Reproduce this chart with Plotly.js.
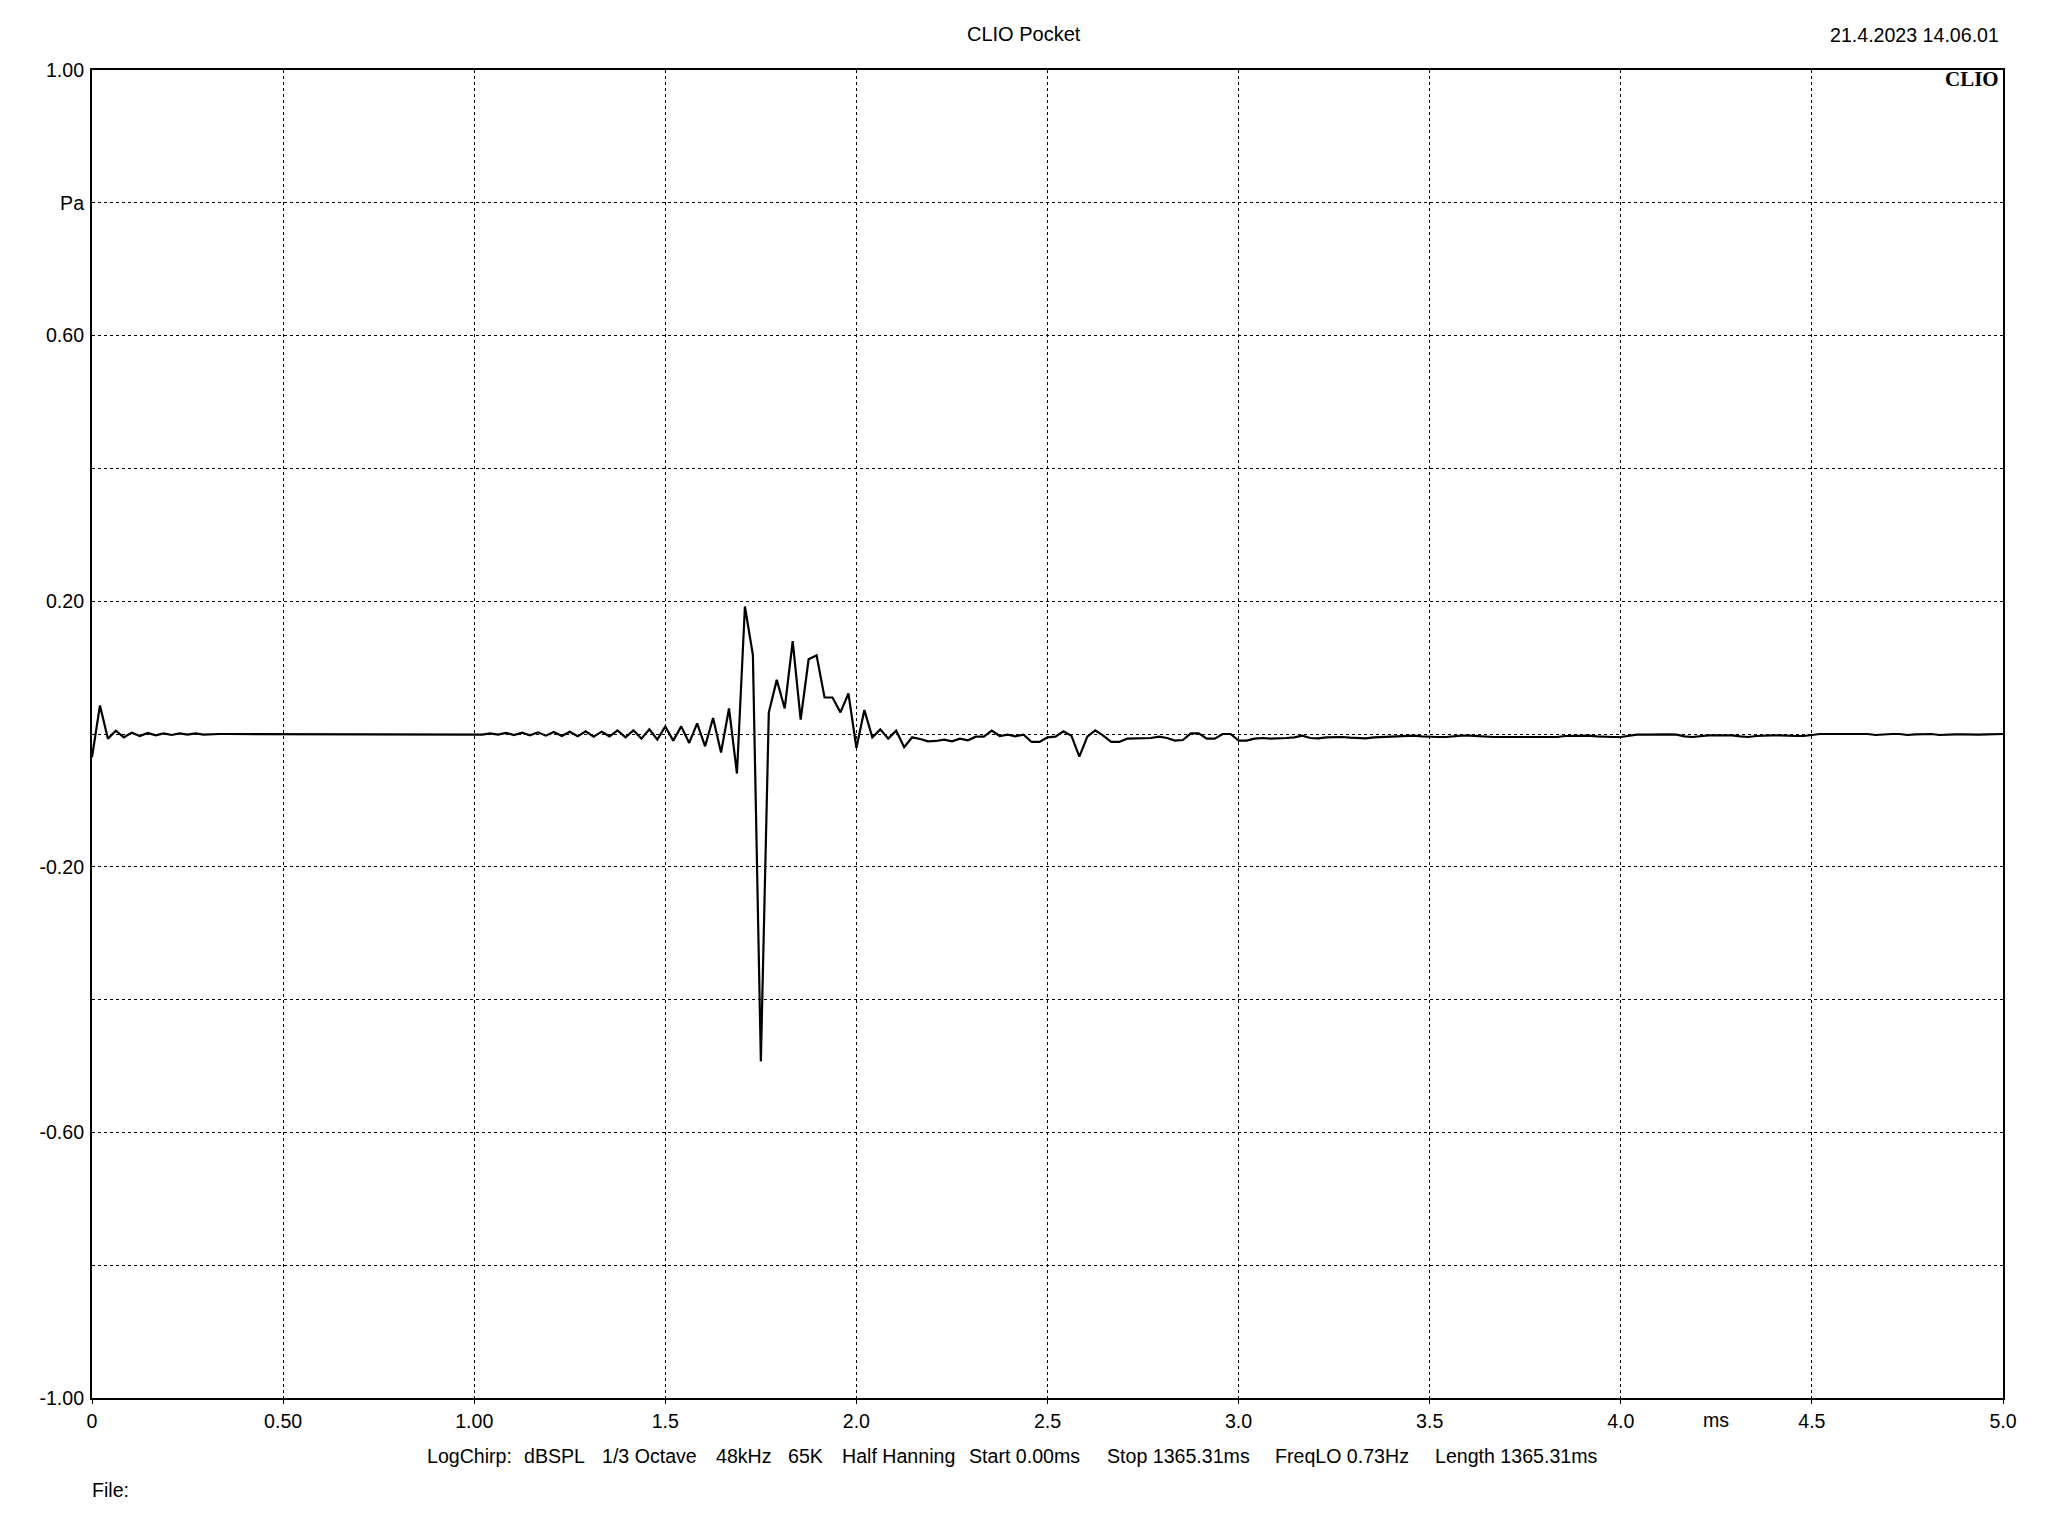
<!DOCTYPE html>
<html>
<head>
<meta charset="utf-8">
<script src="https://cdn.plot.ly/plotly-3.0.1.min.js"></script>
<style>html,body{margin:0;padding:0;background:#fff;}#chart{width:2048px;height:1536px;}</style>
</head>
<body>
<div id="chart"></div>
<script>
// ---- data ----
const SAMPLE_RATE_KHZ = 48; // samples per ms
const pressurePa = [
  -0.035, 0.043, -0.007, 0.005, -0.005, 0.002, -0.003, 0.0015, -0.002, 0.001,
  -0.0015, 0.001, -0.001, 0.001, -0.001, 0, 0, 0, 0, 0,
  0, 0, 0, 0, 0, 0, 0, 0, 0, 0,
  0, 0, 0, 0, 0, 0, 0, 0, 0, 0,
  0, 0, 0, 0, 0, 0, 0, 0, 0, -0.001,
  0.001, -0.001, 0.0015, -0.0015, 0.002, -0.002, 0.0025, -0.0025, 0.003, -0.003,
  0.0035, -0.0035, 0.004, -0.004, 0.0035, -0.0035, 0.0055, -0.005, 0.0055, -0.007,
  0.007, -0.0085, 0.0115, -0.010, 0.0115, -0.0135, 0.016, -0.0185, 0.024, -0.028,
  0.0385, -0.0595, 0.192, 0.119, -0.493, 0.0325, 0.0815, 0.0385, 0.140, 0.0215,
  0.1125, 0.1185, 0.055, 0.055, 0.0325, 0.061, -0.021, 0.036, -0.005, 0.007,
  -0.007, 0.005, -0.020, -0.005, -0.0075, -0.011, -0.0105, -0.0085, -0.011, -0.007,
  -0.0095, -0.004, -0.004, 0.005, -0.003, -0.001, -0.0035, -0.001, -0.012, -0.012,
  -0.005, -0.004, 0.004, -0.0025, -0.034, -0.004, 0.0055, -0.0025, -0.012, -0.012,
  -0.007, -0.007, -0.007, -0.006, -0.004, -0.006, -0.010, -0.009, 0.001, 0.001,
  -0.007, -0.007, 0, 0, -0.010, -0.010, -0.007, -0.006, -0.007, -0.007,
  -0.006, -0.005, -0.0025, -0.006, -0.0065, -0.005, -0.0045, -0.0045, -0.0055, -0.0065,
  -0.0065, -0.005, -0.0045, -0.0045, -0.003, -0.0025, -0.0025, -0.0035, -0.0045, -0.0045,
  -0.0045, -0.003, -0.0025, -0.0025, -0.0035, -0.0045, -0.0045, -0.0045, -0.0045, -0.0045,
  -0.0045, -0.0045, -0.0045, -0.0045, -0.0045, -0.003, -0.0025, -0.0025, -0.0025, -0.0035,
  -0.0045, -0.0045, -0.0045, -0.003, -0.001, -0.001, -0.0005, -0.0005, -0.0005, -0.001,
  -0.0035, -0.0045, -0.003, -0.002, -0.002, -0.002, -0.002, -0.0035, -0.0045, -0.003,
  -0.002, -0.002, -0.002, -0.003, -0.003, -0.003, -0.001, 0, 0, 0,
  0, 0, 0, 0, -0.0015, -0.0005, 0, 0, -0.0015, -0.0005,
  0, 0, -0.0015, -0.0005, -0.0005, -0.0005, -0.001, -0.001, -0.0005, 0,
  0
];
const xTickVals = [0, 0.5, 1.0, 1.5, 2.0, 2.5, 3.0, 3.5, 4.0, 4.5, 5.0];
const xTickText = ['0', '0.50', '1.00', '1.5', '2.0', '2.5', '3.0', '3.5', '4.0', '4.5', '5.0'];
const yTickVals = [-1.0, -0.8, -0.6, -0.4, -0.2, 0, 0.2, 0.4, 0.6, 0.8, 1.0];
const yTickText = ['-1.00', '', '-0.60', '', '-0.20', '', '0.20', '', '0.60', 'Pa', '1.00'];
const titleText = 'CLIO Pocket';
const dateText = '21.4.2023 14.06.01';
const infoItems = ['LogChirp:', 'dBSPL', '1/3 Octave', '48kHz', '65K', 'Half Hanning', 'Start 0.00ms', 'Stop 1365.31ms', 'FreqLO 0.73Hz', 'Length 1365.31ms'];
const infoX = [426.8, 523.7, 601.8, 716, 787.5, 842, 969, 1107, 1275.3, 1435];

// ---- build ----
const timeMs = pressurePa.map((_, i) => i / SAMPLE_RATE_KHZ);

const L = 92, R = 2003, T = 70, B = 1398;
const W = R - L, H = B - T;
const px = x => (x - L) / W;
const py = y => (B - y) / H;
const FONT = 'Liberation Sans, Arial, sans-serif';
const FS = 19.6;

const annotations = [
  {text: titleText, xref: 'paper', yref: 'paper', x: px(1024), y: py(34), xanchor: 'center', yanchor: 'middle', showarrow: false, font: {family: FONT, size: 20, color: '#000'}},
  {text: dateText, xref: 'paper', yref: 'paper', x: px(2001), y: py(35), xanchor: 'right', yanchor: 'middle', showarrow: false, font: {family: FONT, size: FS, color: '#000'}},
  {text: '<b>CLIO</b>', xref: 'paper', yref: 'paper', x: px(2001), y: py(79), xanchor: 'right', yanchor: 'middle', showarrow: false, font: {family: 'Liberation Serif, Times New Roman, serif', size: 21, color: '#000'}},
  {text: 'ms', xref: 'x', yref: 'paper', x: 4.25, y: py(1420), xanchor: 'center', yanchor: 'middle', showarrow: false, font: {family: FONT, size: FS, color: '#000'}},
  {text: 'File:', xref: 'paper', yref: 'paper', x: px(90), y: py(1490), xanchor: 'left', yanchor: 'middle', showarrow: false, font: {family: FONT, size: FS, color: '#000'}}
];
infoItems.forEach((t, i) => {
  annotations.push({text: t, xref: 'paper', yref: 'paper', x: px(infoX[i] - 2), y: py(1456), xanchor: 'left', yanchor: 'middle', showarrow: false, font: {family: FONT, size: FS, color: '#000'}});
});

const trace = {
  x: timeMs, y: pressurePa, type: 'scatter', mode: 'lines',
  line: {color: '#000', width: 2.2}, hoverinfo: 'skip'
};

const layout = {
  width: 2048, height: 1536,
  paper_bgcolor: '#fff', plot_bgcolor: '#fff',
  margin: {l: L, r: 2048 - R, t: T, b: 1536 - B, pad: 0},
  showlegend: false,
  font: {family: FONT, size: FS, color: '#000'},
  xaxis: {
    range: [0, 5], tickmode: 'array', tickvals: xTickVals, ticktext: xTickText,
    showgrid: true, gridcolor: '#000', gridwidth: 1, griddash: 'dot',
    zeroline: false, showline: true, linecolor: '#000', linewidth: 2, mirror: true,
    ticks: 'outside', ticklen: 4, tickwidth: 1, tickcolor: '#000',
    tickfont: {family: FONT, size: FS, color: '#000'}, fixedrange: true
  },
  yaxis: {
    range: [-1, 1], tickmode: 'array', tickvals: yTickVals, ticktext: yTickText,
    showgrid: true, gridcolor: '#000', gridwidth: 1, griddash: 'dot',
    zeroline: false, showline: true, linecolor: '#000', linewidth: 2, mirror: true,
    ticks: '', ticklabelstandoff: 2,
    tickfont: {family: FONT, size: FS, color: '#000'}, fixedrange: true
  },
  annotations: annotations
};

Plotly.newPlot('chart', [trace], layout, {staticPlot: true, displayModeBar: false});
</script>
</body>
</html>
